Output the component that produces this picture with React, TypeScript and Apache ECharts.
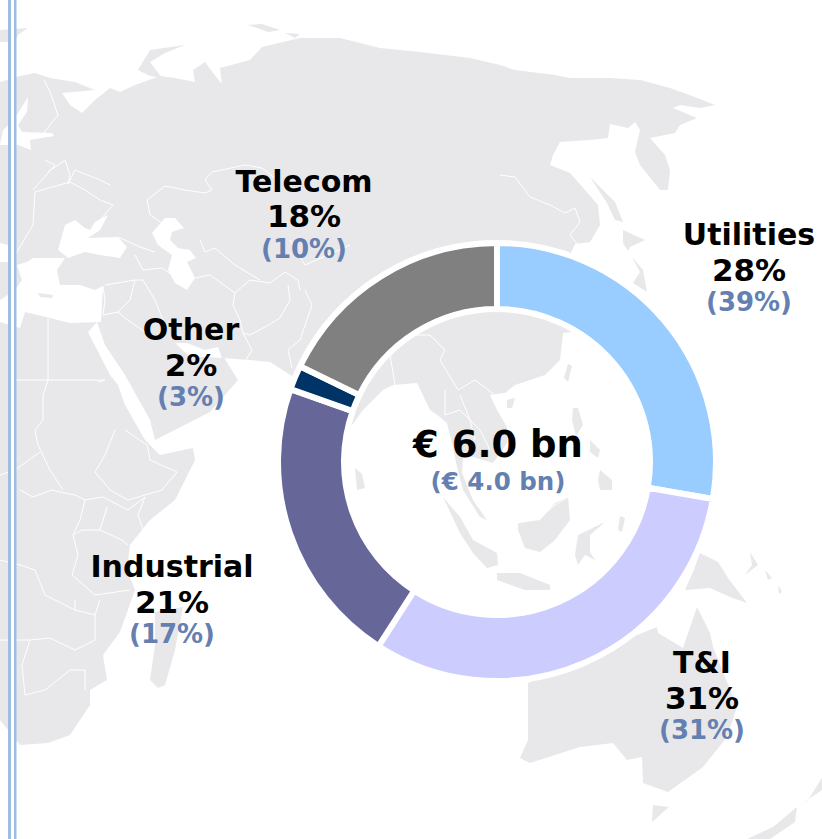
import React, { useEffect, useRef } from "react";
import * as echarts from "echarts";

const categories = ["Utilities", "T&I", "Industrial", "Other", "Telecom"];
const sliceValues = [27.7, 31.4, 21.3, 1.8, 17.8];
const shares = [28, 31, 21, 2, 18];
const priorShares = [39, 31, 17, 3, 10];
const colors = ["#99CCFF", "#CCCCFF", "#666699", "#003366", "#808080"];
const totalLabel = "€ 6.0 bn";
const priorTotalLabel = "(€ 4.0 bn)";
const labelCentres: number[][] = [[749, 267], [702, 695], [172, 599], [191, 362], [304, 213.5]];

const LAND = "#E8E7EA";
type P = number[][];
const land: P[] = [
  // Eurasia + East Africa shell
  [[0,82],[20,76],[35,73],[50,78],[75,82],[95,90],[62,93],[70,105],[82,113],[95,100],[110,88],[120,92],[135,85],[160,76],[175,78],[195,82],[193,70],[205,62],[220,82],[230,90],[225,98],[222,85],[220,68],[250,60],[262,47],[300,38],[340,38],[380,48],[420,52],[470,58],[500,65],[515,70],[555,75],[570,78],[610,78],[640,80],[670,88],[695,97],[715,105],[700,108],[680,105],[673,108],[697,118],[680,125],[675,133],[650,138],[665,155],[670,170],[668,190],[660,190],[640,165],[635,152],[640,130],[635,122],[628,128],[610,124],[608,138],[590,140],[560,142],[553,155],[550,165],[570,173],[585,190],[598,205],[600,225],[590,242],[575,244],[570,255],[590,330],[563,333],[560,360],[545,375],[515,385],[505,393],[490,395],[497,410],[507,427],[507,443],[493,463],[483,460],[473,457],[463,458],[462,473],[473,500],[487,520],[480,517],[463,490],[457,467],[453,447],[447,423],[440,417],[430,410],[417,383],[393,385],[383,390],[363,410],[350,428],[345,445],[335,475],[320,450],[292,376],[270,362],[250,360],[222,358],[218,348],[238,380],[210,412],[155,440],[150,420],[125,375],[105,345],[97,322],[88,332],[110,375],[118,385],[125,405],[145,440],[160,455],[193,448],[195,460],[175,500],[150,520],[130,545],[127,570],[135,590],[120,632],[103,655],[107,680],[90,690],[90,705],[70,735],[48,743],[20,745],[0,720]],
  // Australia
  [[528,683],[600,650],[657,627],[658,633],[683,648],[697,607],[710,633],[713,647],[737,707],[727,737],[703,767],[668,792],[643,783],[642,757],[627,760],[613,743],[580,747],[530,763],[520,758],[528,740]],
  // New Guinea
  [[700,553],[718,562],[728,578],[747,603],[730,597],[710,588],[685,590],[693,572]],
  // Tasmania
  [[653,805],[669,807],[652,822]],
  // New Zealand
  [[822,765],[822,778],[808,800],[800,805],[822,790]],
  [[797,807],[773,827],[747,839],[770,839],[795,822]],
  // Madagascar
  [[183,607],[175,650],[165,685],[158,688],[150,680],[155,645],[155,612]],
  // Novaya Zemlya
  [[138,70],[150,50],[185,45],[165,53],[150,62],[162,78],[150,76]],
  // Arctic bits
  [[248,25],[262,24],[280,30],[268,32]],
  [[285,33],[300,34],[295,38]],
  // Iceland
  [[0,30],[28,28],[18,35],[15,42],[0,42]],
  // Japan
  [[590,177],[615,202],[623,222],[615,220],[607,203]],
  [[623,230],[645,240],[630,247],[628,251],[623,243]],
  [[632,257],[643,270],[647,292],[633,283],[640,272]],
  // Sri Lanka
  [[355,468],[362,474],[365,488],[357,490]],
  // Taiwan, Hainan
  [[568,364],[572,366],[568,382],[564,378]],
  [[507,400],[515,398],[512,408],[507,408]],
  // Philippines
  [[573,408],[578,408],[583,425],[576,436],[572,420]],
  [[590,440],[600,450],[598,458],[590,452]],
  [[600,470],[612,480],[612,490],[600,490],[598,480]],
  // Sumatra, Java, Borneo, Sulawesi, others
  [[443,497],[460,517],[473,540],[497,553],[498,565],[487,568],[473,553],[460,533]],
  [[497,573],[520,573],[550,585],[550,590],[525,590],[497,580]],
  [[518,523],[540,520],[555,503],[568,497],[570,520],[555,540],[540,552],[525,548],[518,530]],
  [[575,555],[578,535],[605,522],[590,535],[590,552],[595,560],[585,555],[578,565]],
  [[620,516],[625,518],[622,532],[618,530]],
  // Solomon-like islands
  [[750,552],[758,565],[745,575],[752,565]],
  [[765,570],[772,578],[768,580]],
  [[778,585],[782,592],[779,594]],
];
const water: P[] = [
  // Black Sea, Azov
  [[58,250],[65,225],[75,220],[85,228],[90,230],[95,222],[108,215],[100,230],[88,238],[118,237],[127,247],[120,258],[100,255],[85,252],[68,258]],
  // Caspian
  [[152,233],[165,218],[175,218],[184,228],[172,232],[170,240],[178,248],[190,250],[196,258],[187,262],[195,278],[187,290],[175,283],[168,270],[172,255],[158,245]],
  // Baltic
  [[28,97],[27,112],[18,125],[22,132],[52,133],[54,136],[30,140],[31,150],[18,145],[0,145],[3,130],[12,122],[20,110]],
  // Mediterranean
  [[33,258],[65,258],[57,270],[60,285],[80,285],[95,290],[103,286],[101,322],[70,323],[50,318],[25,312],[20,328],[0,322],[0,300],[15,290],[22,280],[17,265],[27,262]],
  [[0,243],[8,245],[8,262],[0,262]],
  // Persian Gulf
  [[175,343],[187,343],[205,350],[218,347],[222,358],[205,357],[190,357]],
];
const islandsOverWater: P[] = [
  [[38,293],[53,295],[52,298],[40,297]],
];
const borders: P[] = [
  [[44,80],[50,92],[58,115],[42,135],[20,132]],
  [[48,172],[65,160],[70,175],[68,184],[75,170],[100,180],[110,185]],
  [[33,190],[55,165],[45,160]],
  [[35,192],[33,225],[15,255]],
  [[35,192],[70,182],[85,190],[100,200],[113,205],[100,220]],
  [[147,200],[165,186],[185,190],[205,193],[212,190],[205,180],[212,172],[245,165],[262,168],[275,178]],
  [[147,200],[150,215],[165,225]],
  [[118,237],[140,247],[155,252]],
  [[135,255],[143,270],[162,268],[172,275]],
  [[105,285],[135,280],[143,280],[155,300],[163,320]],
  [[135,280],[130,300],[118,312],[103,315],[105,300],[103,286]],
  [[118,312],[125,318],[145,332]],
  [[195,278],[210,275],[235,293],[250,280],[270,283],[285,272],[298,280],[300,290]],
  [[200,240],[205,252],[215,248],[235,265],[260,280]],
  [[235,293],[233,305],[240,320],[243,333],[250,335],[265,327],[280,318],[290,300],[288,285]],
  [[243,333],[252,350],[246,360]],
  [[305,290],[312,305],[300,340],[288,350],[292,368]],
  [[290,240],[305,265],[350,245]],
  [[48,318],[48,380],[105,380],[98,382]],
  [[48,380],[15,380]],
  [[48,380],[43,395],[43,420],[35,430],[38,445],[50,470],[63,490]],
  [[0,475],[15,470],[40,452]],
  [[20,490],[33,497],[52,490],[65,493],[75,495],[85,500],[103,497],[128,510],[145,497]],
  [[115,430],[105,455],[95,472],[110,490],[128,500],[145,495],[162,490],[177,472],[150,460],[147,445],[125,430]],
  [[145,497],[138,515],[145,535]],
  [[85,500],[80,520],[73,535],[82,530],[100,530],[122,540],[128,545]],
  [[107,507],[100,530]],
  [[73,535],[78,555],[72,575],[95,595],[130,590]],
  [[0,560],[20,565],[35,570],[45,595],[75,610],[75,600]],
  [[75,610],[95,615],[100,600]],
  [[0,640],[30,640],[50,638],[75,650],[95,640],[95,615]],
  [[30,640],[22,665],[25,695],[45,690],[70,670],[85,670],[85,690]],
  [[395,345],[415,335],[430,335],[445,350],[440,360],[458,390],[475,380],[495,395]],
  [[390,355],[395,385]],
  [[445,390],[445,415],[460,410],[480,430],[490,450]],
  [[460,395],[470,420],[475,440]],
  [[518,523],[540,518],[555,505],[568,497]],
  [[683,565],[683,590]],
  [[500,175],[515,177],[530,197],[550,205],[565,213],[575,208],[580,222],[570,235],[578,245]],
];

export default function App() {
  const ref = useRef<HTMLDivElement>(null);
  useEffect(() => {
    const chart = echarts.init(ref.current!, undefined, { renderer: "svg" });
    const graphicChildren: any[] = [
      ...land.map((points) => ({ type: "polygon", shape: { points }, style: { fill: LAND } })),
      ...water.map((points) => ({ type: "polygon", shape: { points }, style: { fill: "#FFFFFF" } })),
      ...islandsOverWater.map((points) => ({ type: "polygon", shape: { points }, style: { fill: LAND } })),
      ...borders.map((points) => ({ type: "polyline", shape: { points }, style: { fill: "none", stroke: "#FFFFFF", lineWidth: 1 } })),
      { type: "rect", shape: { x: 11, y: 0, width: 3, height: 839 }, style: { fill: "#FFFFFF" } },
      { type: "rect", shape: { x: 8, y: 0, width: 3, height: 839 }, style: { fill: "#9DBDE0" } },
      { type: "rect", shape: { x: 14, y: 0, width: 2.5, height: 839 }, style: { fill: "#9DBDE0" } },
    ];
    chart.setOption({
      animation: false,
      backgroundColor: "#FFFFFF",
      graphic: { z: 0, elements: graphicChildren },
      title: {
        text: totalLabel,
        subtext: priorTotalLabel,
        left: 498,
        top: 426,
        textAlign: "center",
        itemGap: 6,
        padding: 0,
        textStyle: { fontFamily: "DejaVu Sans", fontWeight: "bold", fontSize: 37, color: "#000000" },
        subtextStyle: { fontFamily: "DejaVu Sans", fontWeight: "bold", fontSize: 24.5, color: "#6480B0" },
      },
      series: [
        {
          type: "pie",
          left: -500,
          top: 0,
          width: 1822,
          height: 839,
          center: [997, 462],
          radius: [153, 219],
          startAngle: 90,
          clockwise: true,
          silent: true,
          z: 2,
          itemStyle: { borderColor: "#FFFFFF", borderWidth: 6 },
          labelLine: { show: false },
          label: {
            show: true,
            position: "outside",
            overflow: "none",
            formatter: (p: any) => `{n|${p.name}}\n{v|${shares[p.dataIndex]}%}\n{s|(${priorShares[p.dataIndex]}%)}`,
            fontFamily: "DejaVu Sans",
            rich: {
              n: { fontFamily: "DejaVu Sans", fontWeight: "bold", fontSize: 30, lineHeight: 35, color: "#000000", align: "center" },
              v: { fontFamily: "DejaVu Sans", fontWeight: "bold", fontSize: 31, lineHeight: 35, color: "#000000", align: "center" },
              s: { fontFamily: "DejaVu Sans", fontWeight: "bold", fontSize: 26, lineHeight: 30, color: "#6480B0", align: "center" },
            },
          },
          labelLayout: (p: any) => ({
            x: labelCentres[p.dataIndex][0],
            y: labelCentres[p.dataIndex][1],
            align: "center",
            verticalAlign: "middle",
            hideOverlap: false,
          }),
          data: categories.map((name, i) => ({ name, value: sliceValues[i], itemStyle: { color: colors[i] } })),
        },
      ],
    });
    return () => chart.dispose();
  }, []);
  return <div ref={ref} style={{ position: "absolute", left: 0, top: 0, width: 822, height: 839 }} />;
}
